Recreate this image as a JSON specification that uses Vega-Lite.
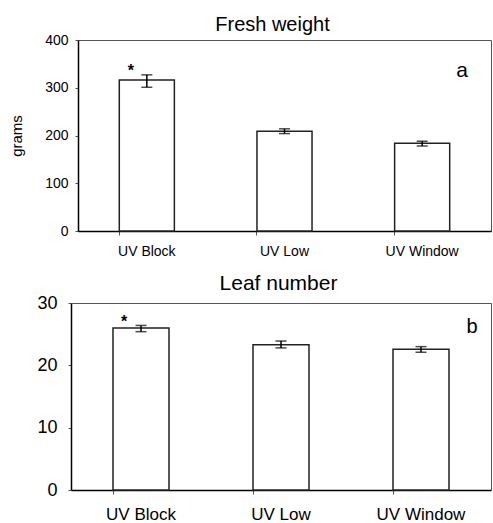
{
  "$schema": "https://vega.github.io/schema/vega-lite/v6.json",
  "padding": {"left": 9, "top": 14, "right": 0, "bottom": 0},
  "background": "white",
  "spacing": 14,
  "config": {
    "font": "Liberation Sans",
    "view": {"stroke": "#555", "strokeWidth": 1},
    "axis": {
      "grid": false,
      "domainColor": "black",
      "domainWidth": 1.5,
      "tickColor": "#555",
      "labelColor": "black",
      "titleColor": "black",
      "labelFont": "Liberation Sans",
      "titleFont": "Liberation Sans"
    },
    "title": {"font": "Liberation Sans", "fontWeight": "normal", "color": "black"}
  },
  "vconcat": [
    {
      "width": 413,
      "height": 191,
      "title": {"text": "Fresh weight", "fontSize": 20, "offset": -22, "baseline": "bottom", "anchor": "middle", "dx": -12},
      "data": {"values": [
        {"treatment": "UV Block", "mean": 316, "lower": 301, "upper": 327, "sig": "*"},
        {"treatment": "UV Low", "mean": 209, "lower": 204, "upper": 214, "sig": ""},
        {"treatment": "UV Window", "mean": 184, "lower": 178, "upper": 188, "sig": ""}
      ]},
      "encoding": {
        "x": {"field": "treatment", "type": "nominal", "sort": null, "title": null,
          "scale": {"paddingInner": 0.6, "paddingOuter": 0.3},
          "axis": {"labelAngle": 0, "labelFontSize": 14, "bandPosition": 0, "tickSize": 4, "labelPadding": 9}}
      },
      "layer": [
        {
          "mark": {"type": "bar", "fill": "white", "stroke": "#222", "strokeWidth": 1.5},
          "encoding": {
            "y": {"field": "mean", "type": "quantitative", "title": "grams",
              "scale": {"domain": [0, 400], "nice": false},
              "axis": {"values": [0, 100, 200, 300, 400], "labelFontSize": 14, "titleFontSize": 15, "titleFontWeight": "normal", "tickSize": 3, "labelPadding": 7, "titlePadding": 20}}
          }
        },
        {
          "mark": {"type": "rule", "color": "black", "strokeWidth": 1.5},
          "encoding": {
            "y": {"field": "lower", "type": "quantitative", "title": "grams"},
            "y2": {"field": "upper"}
          }
        },
        {
          "mark": {"type": "tick", "color": "black", "size": 11, "thickness": 1.5},
          "encoding": {"y": {"field": "lower", "type": "quantitative", "title": "grams"}}
        },
        {
          "mark": {"type": "tick", "color": "black", "size": 11, "thickness": 1.5},
          "encoding": {"y": {"field": "upper", "type": "quantitative", "title": "grams"}}
        },
        {
          "mark": {"type": "text", "fontSize": 16, "fontWeight": "bold", "dx": -16, "dy": -4, "baseline": "middle", "color": "black"},
          "encoding": {
            "y": {"field": "upper", "type": "quantitative", "title": "grams"},
            "text": {"field": "sig"}
          }
        },
        {
          "data": {"values": [{"treatment": "UV Window", "v": 336, "lab": "a"}]},
          "mark": {"type": "text", "fontSize": 21, "dx": 40, "baseline": "middle", "color": "black"},
          "encoding": {
            "y": {"field": "v", "type": "quantitative", "title": "grams"},
            "text": {"field": "lab"}
          }
        }
      ]
    },
    {
      "width": 413,
      "height": 187,
      "view": {"stroke": null},
      "title": {"text": "Leaf number", "fontSize": 21, "offset": -21, "baseline": "bottom", "anchor": "middle", "dx": -6},
      "data": {"values": [
        {"treatment": "UV Block", "mean": 26.0, "lower": 25.4, "upper": 26.4, "sig": "*"},
        {"treatment": "UV Low", "mean": 23.3, "lower": 22.8, "upper": 23.9, "sig": ""},
        {"treatment": "UV Window", "mean": 22.6, "lower": 22.1, "upper": 23.0, "sig": ""}
      ]},
      "resolve": {"axis": {"x": "independent", "y": "independent"}},
      "layer": [
        {
          "encoding": {
            "x": {"field": "treatment", "type": "nominal", "sort": null, "title": null,
              "scale": {"domain": ["UV Block", "UV Low", "UV Window"], "range": [-7, 413], "paddingInner": 0.6, "paddingOuter": 0.3},
              "axis": {"labelAngle": 0, "labelFontSize": 17, "bandPosition": 0, "tickSize": 4, "labelPadding": 12}}
          },
          "layer": [
            {
              "mark": {"type": "bar", "fill": "white", "stroke": "#222", "strokeWidth": 1.5},
              "encoding": {
                "y": {"field": "mean", "type": "quantitative", "title": null,
                  "scale": {"domain": [0, 30], "nice": false},
                  "axis": {"values": [0, 10, 20, 30], "labelFontSize": 18, "tickSize": 3, "labelPadding": 11, "offset": 7}}
              }
            },
            {
              "mark": {"type": "rule", "color": "black", "strokeWidth": 1.5},
              "encoding": {
                "y": {"field": "lower", "type": "quantitative", "title": null},
                "y2": {"field": "upper"}
              }
            },
            {
              "mark": {"type": "tick", "color": "black", "size": 11, "thickness": 1.5},
              "encoding": {"y": {"field": "lower", "type": "quantitative", "title": null}}
            },
            {
              "mark": {"type": "tick", "color": "black", "size": 11, "thickness": 1.5},
              "encoding": {"y": {"field": "upper", "type": "quantitative", "title": null}}
            },
            {
              "mark": {"type": "text", "fontSize": 16, "fontWeight": "bold", "dx": -17, "dy": -3, "baseline": "middle", "color": "black"},
              "encoding": {
                "y": {"field": "upper", "type": "quantitative", "title": null},
                "text": {"field": "sig"}
              }
            }
          ]
        },
        {
          "data": {"values": [{"treatment": "UV Window", "v": 26.1, "lab": "b"}]},
          "mark": {"type": "text", "fontSize": 20, "dx": 51, "baseline": "middle", "color": "black"},
          "encoding": {
            "x": {"field": "treatment", "type": "nominal", "sort": null, "title": null,
              "axis": {"orient": "top", "labels": false, "ticks": false, "domainColor": "#555", "domainWidth": 1}},
            "y": {"field": "v", "type": "quantitative", "title": null,
              "axis": {"orient": "right", "labels": false, "ticks": false, "domainColor": "#555", "domainWidth": 1}},
            "text": {"field": "lab"}
          }
        }
      ]
    }
  ]
}
